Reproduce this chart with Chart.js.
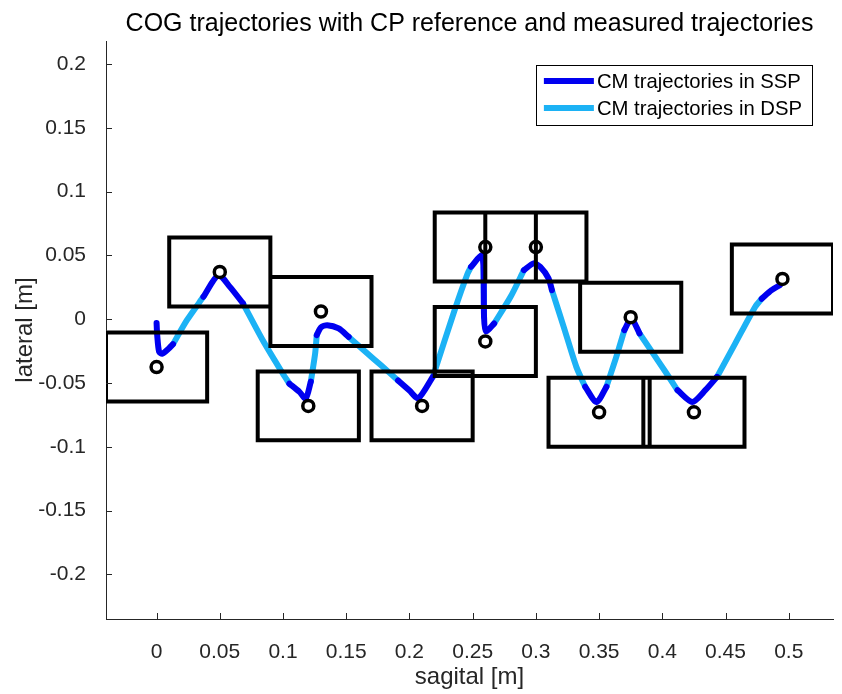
<!DOCTYPE html>
<html>
<head>
<meta charset="utf-8">
<title>COG trajectories</title>
<script src="https://cdn.jsdelivr.net/npm/chart.js@4.4.1/dist/chart.umd.min.js"></script>
<style>
  html, body { margin: 0; padding: 0; background: #fff; }
  #wrap { width: 842px; height: 694px; }
</style>
</head>
<body>
<div id="wrap"><canvas id="mycanvas" width="842" height="694"></canvas></div>
<script>
// CP reference per footstep [m]
var cp_x = [0, 0.05, 0.13, 0.12, 0.21, 0.26, 0.26, 0.30, 0.375, 0.35, 0.425, 0.495];
var cp_y = [-0.0375, 0.037, 0.006, -0.068, -0.068, 0.0565, -0.0175, 0.0565, 0.0015, -0.073, -0.073, 0.0315];

// foot rectangle around each CP [m]
var foot_length = 0.08;
var foot_width = 0.054;

// measured CM trajectory; phase is the phase of the piece that starts at the sample
var cm_x = [0.000, 0.0005, 0.002, 0.0045, 0.0097, 0.013, 0.024, 0.037, 0.0489, 0.058,
            0.0684, 0.084, 0.0998, 0.105, 0.113, 0.118, 0.122, 0.1254, 0.1267, 0.130,
            0.135, 0.144, 0.152, 0.165, 0.178, 0.191, 0.200, 0.207, 0.2186, 0.2357,
            0.246, 0.2487, 0.257, 0.2586, 0.259, 0.2605, 0.267, 0.280, 0.2905, 0.2983,
            0.3035, 0.310, 0.3127, 0.322, 0.332, 0.339, 0.348, 0.3558, 0.3636, 0.370,
            0.3754, 0.382, 0.403, 0.412, 0.4237, 0.434, 0.4433, 0.4577, 0.4734, 0.4786,
            0.4864, 0.493];
var cm_y = [-0.003, -0.0126, -0.0256, -0.027, -0.023, -0.0196, -0.0008, 0.0175, 0.0345, 0.0253,
            0.0123, -0.0165, -0.0426, -0.0505, -0.057, -0.0622, -0.049, -0.027, -0.0125, -0.0065,
            -0.0047, -0.0073, -0.0139, -0.0253, -0.0366, -0.048, -0.056, -0.062, -0.045, 0.007,
            0.0358, 0.041, 0.050, 0.040, 0.002, -0.0095, -0.0034, 0.0175, 0.0384, 0.0437,
            0.041, 0.032, 0.0227, -0.006, -0.0374, -0.053, -0.065, -0.053, -0.0296, -0.0086,
            0.0005, -0.0112, -0.042, -0.0557, -0.0649, -0.0557, -0.0452, -0.019, 0.0096, 0.016,
            0.0227, 0.0267];
var cm_phase = ['S','S','S','S','S','D','D','S','S','S',
                'D','D','D','S','S','S','D','D','S','S',
                'S','S','D','D','D','S','S','S','D','D',
                'D','S','S','D','S','S','D','D','S','S',
                'S','S','D','D','D','S','S','D','D','S',
                'S','D','D','S','S','S','D','D','D','S',
                'S','S'];

var x_ticks = [0, 0.05, 0.1, 0.15, 0.2, 0.25, 0.3, 0.35, 0.4, 0.45, 0.5];
var y_ticks = [-0.2, -0.15, -0.1, -0.05, 0, 0.05, 0.1, 0.15, 0.2];

var font_family = '"Liberation Sans", Arial, Helvetica, sans-serif';
var axis_color = '#262626';

function phaseData(p) {
  var out = [];
  for (var i = 0; i < cm_x.length; i++) {
    var inside = cm_phase[i] === p || (i > 0 && cm_phase[i - 1] === p);
    out.push({x: cm_x[i], y: inside ? cm_y[i] : null});
  }
  return out;
}

var box_data = [];
var cp_data = [];
for (var i = 0; i < cp_x.length; i++) {
  var hx = foot_length / 2, hy = foot_width / 2;
  box_data.push({x: cp_x[i] - hx, y: cp_y[i] - hy});
  box_data.push({x: cp_x[i] + hx, y: cp_y[i] - hy});
  box_data.push({x: cp_x[i] + hx, y: cp_y[i] + hy});
  box_data.push({x: cp_x[i] - hx, y: cp_y[i] + hy});
  box_data.push({x: cp_x[i] - hx, y: cp_y[i] - hy});
  box_data.push({x: cp_x[i], y: null});
  cp_data.push({x: cp_x[i], y: cp_y[i]});
}

// MATLAB style ticks pointing into the axes
var inTicks = {
  id: 'inTicks',
  afterDatasetsDraw: function(chart) {
    var ctx = chart.ctx, a = chart.chartArea, sx = chart.scales.x, sy = chart.scales.y;
    ctx.save();
    ctx.strokeStyle = axis_color;
    ctx.lineWidth = 1;
    ctx.beginPath();
    sx.ticks.forEach(function(t) {
      var px = Math.round(sx.getPixelForValue(t.value)) + 0.5;
      ctx.moveTo(px, a.bottom);
      ctx.lineTo(px, a.bottom - 6);
    });
    sy.ticks.forEach(function(t) {
      var py = Math.round(sy.getPixelForValue(t.value)) + 0.5;
      ctx.moveTo(a.left, py);
      ctx.lineTo(a.left + 6, py);
    });
    ctx.stroke();
    ctx.restore();
  }
};

// legend with a frame, inside the axes top right
var boxLegend = {
  id: 'boxLegend',
  afterDraw: function(chart) {
    var ctx = chart.ctx, a = chart.chartArea;
    var items = chart.data.datasets.filter(function(d) { return d.inLegend; });
    ctx.save();
    ctx.font = '20.3px ' + font_family;
    var textW = 0;
    items.forEach(function(d) { textW = Math.max(textW, ctx.measureText(d.label).width); });
    var w = 8 + 50 + 3 + textW + 10;
    var h = items.length * 27 + 6;
    var x = a.right - 21 - w;
    var y = a.top + 24;
    ctx.fillStyle = '#fff';
    ctx.fillRect(x, y, w, h);
    ctx.strokeStyle = '#000';
    ctx.lineWidth = 1;
    ctx.strokeRect(Math.round(x) + 0.5, Math.round(y) + 0.5, Math.round(w), Math.round(h));
    items.forEach(function(d, k) {
      var cy = y + 16 + k * 27;
      ctx.strokeStyle = d.borderColor;
      ctx.lineWidth = 6;
      ctx.beginPath();
      ctx.moveTo(x + 8, cy);
      ctx.lineTo(x + 58, cy);
      ctx.stroke();
      ctx.fillStyle = '#000';
      ctx.textBaseline = 'middle';
      ctx.textAlign = 'left';
      ctx.fillText(d.label, x + 61, cy + 1);
    });
    ctx.restore();
  }
};

// center the title over the axes, like MATLAB does
var titleOverAxes = {
  id: 'titleOverAxes',
  afterLayout: function(chart) {
    if (chart.titleBlock) {
      chart.titleBlock.left = chart.chartArea.left;
      chart.titleBlock.right = chart.chartArea.right;
    }
  }
};

var ctx = document.getElementById('mycanvas');

var cogChart = new Chart(ctx, {
  type: 'scatter',
  data: {
    datasets: [
      {
        label: 'foot',
        data: box_data,
        showLine: true,
        borderColor: '#000',
        borderWidth: 4,
        borderJoinStyle: 'miter',
        borderCapStyle: 'square',
        pointRadius: 0,
        tension: 0,
        spanGaps: false,
        order: 0
      },
      {
        label: 'CP reference',
        data: cp_data,
        showLine: false,
        pointStyle: 'circle',
        pointRadius: 5.5,
        pointBorderWidth: 3.5,
        pointBorderColor: '#000',
        pointBackgroundColor: '#fff',
        order: 1
      },
      {
        label: 'CM trajectories in SSP',
        inLegend: true,
        data: phaseData('S'),
        showLine: true,
        borderColor: '#0000f0',
        borderWidth: 6,
        borderCapStyle: 'round',
        borderJoinStyle: 'round',
        pointRadius: 0,
        tension: 0.25,
        spanGaps: false,
        order: 2
      },
      {
        label: 'CM trajectories in DSP',
        inLegend: true,
        data: phaseData('D'),
        showLine: true,
        borderColor: '#1cb2f5',
        borderWidth: 6,
        borderCapStyle: 'round',
        borderJoinStyle: 'round',
        pointRadius: 0,
        tension: 0.25,
        spanGaps: false,
        order: 3
      }
    ]
  },
  options: {
    responsive: false,
    animation: false,
    events: [],
    layout: { padding: { left: 0, right: 4, top: 0, bottom: 0 } },
    plugins: {
      legend: { display: false },
      tooltip: { enabled: false },
      title: {
        display: true,
        text: 'COG trajectories with CP reference and measured trajectories',
        color: '#000',
        font: { family: font_family, size: 25, weight: 'normal' },
        padding: { top: 9, bottom: 2 }
      }
    },
    scales: {
      x: {
        type: 'linear',
        min: -0.04,
        max: 0.535,
        afterBuildTicks: function(scale) {
          scale.ticks = x_ticks.map(function(v) { return {value: v}; });
        },
        afterFit: function(scale) { scale.height = 75; },
        grid: { display: false },
        border: { display: true, color: axis_color, width: 1 },
        ticks: {
          autoSkip: false,
          maxRotation: 0,
          padding: 13,
          color: axis_color,
          font: { family: font_family, size: 21 },
          callback: function(v) { return String(v); }
        },
        title: {
          display: true,
          text: 'sagital [m]',
          color: axis_color,
          font: { family: font_family, size: 24 },
          padding: { top: 0, bottom: 2 }
        }
      },
      y: {
        type: 'linear',
        min: -0.235,
        max: 0.218,
        afterBuildTicks: function(scale) {
          scale.ticks = y_ticks.map(function(v) { return {value: v}; });
        },
        afterFit: function(scale) { scale.width = 106; },
        grid: { display: false },
        border: { display: true, color: axis_color, width: 1 },
        ticks: {
          autoSkip: false,
          padding: 12,
          color: axis_color,
          font: { family: font_family, size: 21 },
          callback: function(v) { return String(v); }
        },
        title: {
          display: true,
          text: 'lateral [m]',
          color: axis_color,
          font: { family: font_family, size: 24 },
          padding: { top: 11, bottom: 0 }
        }
      }
    }
  },
  plugins: [inTicks, boxLegend, titleOverAxes]
});
</script>
</body>
</html>
